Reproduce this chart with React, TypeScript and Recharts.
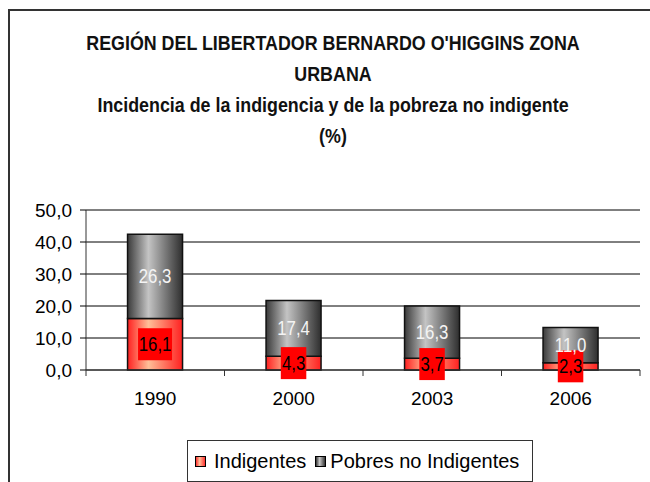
import React from "react"
import { BarChart, Bar, XAxis, YAxis, CartesianGrid, Legend, LabelList } from "recharts"

const years = ["1990", "2000", "2003", "2006"]
const indigentes = [16.1, 4.3, 3.7, 2.3]
const pobresNoIndigentes = [26.3, 17.4, 16.3, 11.0]
const yTicks = [0, 10, 20, 30, 40, 50]

const data = years.map((year, i) => ({
  year,
  indigentes: indigentes[i],
  pobres: pobresNoIndigentes[i],
}))

const arial = "'Liberation Sans', Arial, sans-serif"

const fmt = (v: number) => v.toFixed(1).replace(".", ",")

function YearTick(props: any) {
  const { x, y, payload, width, visibleTicksCount, index } = props
  const half = (width || 554) / (visibleTicksCount || 4) / 2
  return (
    <g>
      <line x1={x - half} x2={x - half} y1={y} y2={y + 6} stroke="#333" />
      {index === visibleTicksCount - 1 && (
        <line x1={x + half} x2={x + half} y1={y} y2={y + 6} stroke="#333" />
      )}
      <text x={x} y={y + 35} textAnchor="middle" fontFamily={arial} fontSize={19} fill="#000">
        {payload.value}
      </text>
    </g>
  )
}

// condensed label text, squeezed horizontally like the original
function NarrowText({ cx, cy, text, fill }: { cx: number; cy: number; text: string; fill: string }) {
  return (
    <text transform={`translate(${cx},${cy + 7}) scale(0.82,1)`} textAnchor="middle" fontFamily={arial} fontSize={20.5} fill={fill}>
      {text}
    </text>
  )
}

function RedLabel(props: any) {
  const { x, y, width, height, value } = props
  const s = fmt(value)
  const w = s.length * 8.5
  const cx = x + width / 2
  const cy = y + height / 2
  return (
    <g>
      <rect x={cx - w / 2} y={cy - 16} width={w} height={32} fill="#FF0000" />
      <NarrowText cx={cx} cy={cy} text={s} fill="#000" />
    </g>
  )
}

function GrayLabel(props: any) {
  const { x, y, width, height, value } = props
  return <NarrowText cx={x + width / 2} cy={y + height / 2} text={fmt(value)} fill="#F4F4F4" />
}

function LegendBox() {
  const item = (label: string, bg: string, gap: number, after: number) => (
    <span style={{ display: "inline-flex", alignItems: "center", marginRight: after }}>
      <span style={{ display: "inline-block", width: 9, height: 9, border: "1px solid #000", background: bg, marginRight: gap }} />
      <span>{label}</span>
    </span>
  )
  return (
    <div style={{ boxSizing: "border-box", width: 346, height: 42, border: "1px solid #333", background: "#fff", fontFamily: arial, fontSize: 20, color: "#000", display: "flex", alignItems: "center", paddingLeft: 7, whiteSpace: "nowrap" }}>
      {item("Indigentes", "linear-gradient(90deg, #ff3030, #ffc09a 40%, #ff3030)", 8, 9)}
      {item("Pobres no Indigentes", "linear-gradient(90deg, #333, #c8c8c8 40%, #333)", 4, 0)}
    </div>
  )
}

const titleLines = [
  "REGIÓN DEL LIBERTADOR BERNARDO O'HIGGINS ZONA",
  "URBANA",
  "Incidencia de la indigencia y de la pobreza no indigente",
  "(%)",
]

export default function App() {
  return (
    <div style={{ position: "absolute", left: 0, top: 0, width: 650, height: 482, background: "#fff", overflow: "hidden" }}>
      <div style={{ position: "absolute", left: 8, top: 9, width: 700, height: 500, borderLeft: "2px solid #333", borderTop: "2px solid #333" }} />
      <div style={{ position: "absolute", left: 9, top: 27, width: 648, textAlign: "center", fontFamily: arial, fontWeight: "bold", fontSize: 21, lineHeight: "31px", color: "#111" }}>
        {titleLines.map((t) => (
          <div key={t} style={{ transform: "scaleX(0.85)", whiteSpace: "nowrap" }}>{t}</div>
        ))}
      </div>
      <BarChart
        width={650}
        height={482}
        data={data}
        margin={{ top: 210, right: 10, bottom: 72, left: 0 }}
        barCategoryGap="30%"
        style={{ position: "absolute", left: 0, top: 0 }}
      >
        <defs>
          <linearGradient id="gradRed" x1="0" y1="0" x2="1" y2="0">
            <stop offset="0%" stopColor="#ff2020" />
            <stop offset="38%" stopColor="#ffbf98" />
            <stop offset="100%" stopColor="#ff2020" />
          </linearGradient>
          <linearGradient id="gradGray" x1="0" y1="0" x2="1" y2="0">
            <stop offset="0%" stopColor="#3a3a3a" />
            <stop offset="38%" stopColor="#c4c4c4" />
            <stop offset="100%" stopColor="#2e2e2e" />
          </linearGradient>
        </defs>
        <CartesianGrid vertical={false} stroke="#000" />
        <XAxis dataKey="year" height={40} tickLine={false} tickSize={0} tickMargin={0} axisLine={{ stroke: "#333" }} tick={<YearTick />} interval={0} />
        <XAxis xAxisId="top" dataKey="year" orientation="top" height={0} tick={false} tickLine={false} axisLine={{ stroke: "#999" }} />
        <YAxis
          width={86}
          domain={[0, 50]}
          ticks={yTicks}
          tickFormatter={fmt}
          tickSize={6}
          tickMargin={8}
          tick={{ fontFamily: arial, fontSize: 19, fill: "#000" }}
          tickLine={{ stroke: "#000" }}
          axisLine={{ stroke: "#333" }}
        />
        <YAxis yAxisId="right" orientation="right" width={0} domain={[0, 50]} tick={false} tickLine={false} axisLine={{ stroke: "#999" }} />
        <Bar dataKey="indigentes" name="Indigentes" stackId="a" fill="url(#gradRed)" stroke="#111" strokeWidth={1.5} isAnimationActive={false}>
          <LabelList dataKey="indigentes" content={<RedLabel />} />
        </Bar>
        <Bar dataKey="pobres" name="Pobres no Indigentes" stackId="a" fill="url(#gradGray)" stroke="#111" strokeWidth={1.5} isAnimationActive={false}>
          <LabelList dataKey="pobres" content={<GrayLabel />} />
        </Bar>
        <Legend
          layout="horizontal"
          verticalAlign="middle"
          align="center"
          wrapperStyle={{ left: 187, top: 440, width: 346, height: 42 }}
          content={() => <LegendBox />}
        />
      </BarChart>
    </div>
  )
}
